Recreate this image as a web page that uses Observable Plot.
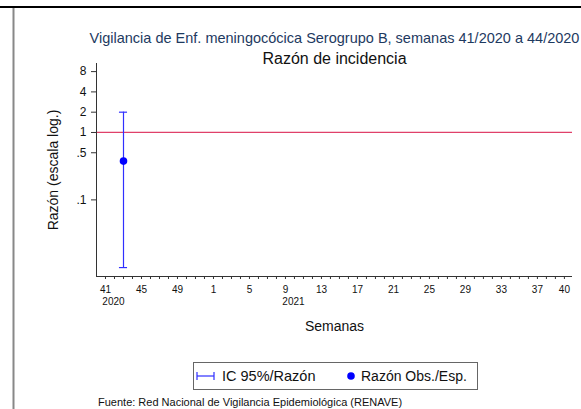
<!DOCTYPE html>
<html>
<head>
<meta charset="utf-8">
<script src="https://cdn.jsdelivr.net/npm/d3@7"></script>
<script src="https://cdn.jsdelivr.net/npm/@observablehq/plot@0.6"></script>
<style>
  html, body { margin: 0; padding: 0; background: #fff; }
  #chart { width: 581px; height: 409px; }
</style>
</head>
<body>
<div id="chart"></div>
<script>
// ---- data ----
const weekLabels = [41,42,43,44,45,46,47,48,49,50,51,52,1,2,3,4,5,6,7,8,9,10,11,12,13,14,15,16,17,18,19,20,21,22,23,24,25,26,27,28,29,30,31,32,33,34,35,36,37,38,39,40];
const labeledWeeks = [41,45,49,1,5,9,13,17,21,25,29,33,37,40];
const yearLabels = ["2020", "2021"];
const yearStartWeeks = [41, 9];
const obsWeeks = [43];
const ratio = [0.376];
const ciLow = [0.0099];
const ciHigh = [2.0];
const refValue = [1];
const yTicks = [8, 4, 2, 1, 0.5, 0.1];
const yTickLabels = ["8", "4", "2", "1", ".5", ".1"];

const titleText = "Vigilancia de Enf. meningocócica Serogrupo B, semanas 41/2020 a 44/2020";
const subtitleText = "Razón de incidencia";
const xTitle = "Semanas";
const yTitle = "Razón (escala log.)";
const legendCI = "IC 95%/Razón";
const legendDot = "Razón Obs./Esp.";
const captionText = "Fuente: Red Nacional de Vigilancia Epidemiológica (RENAVE)";

// ---- derived tables ----
const idx = weekLabels.map((_, i) => i);
const obs = obsWeeks.map((w, k) => ({i: weekLabels.indexOf(w), ratio: ratio[k], lo: ciLow[k], hi: ciHigh[k]}));
const years = yearLabels.map((y, k) => ({i: weekLabels.indexOf(yearStartWeeks[k]), label: y}));
const yTickData = yTicks.map((v, k) => ({v, label: yTickLabels[k]}));
const yMin = 0.0073, yMax = 10.55;
const xMin = -1, xMax = 51.9;

const font = "'Liberation Sans', Arial, sans-serif";
const blue = "#3030ff";

const chart = Plot.plot({
  width: 581,
  height: 409,
  marginTop: 63,
  marginBottom: 133,
  marginLeft: 96,
  marginRight: 9,
  style: {fontFamily: font, fontSize: "10px", color: "#111", background: "#fff"},
  x: {domain: [xMin, xMax]},
  y: {type: "log", domain: [yMin, yMax]},
  marks: [
    Plot.ruleY(refValue, {y: d => d, x1: xMin, x2: xMax, stroke: "#e0406a", strokeWidth: 1.2}),
    Plot.ruleX(obs, {x: "i", y1: "lo", y2: "hi", stroke: blue, strokeWidth: 1.2}),
    Plot.ruleY(obs, {y: "hi", x1: d => d.i - 0.45, x2: d => d.i + 0.45, stroke: blue, strokeWidth: 1.2}),
    Plot.ruleY(obs, {y: "lo", x1: d => d.i - 0.45, x2: d => d.i + 0.45, stroke: blue, strokeWidth: 1.2}),
    Plot.dot(obs, {x: "i", y: "ratio", r: 3.8, fill: "#0000ff", stroke: "none"}),
    Plot.ruleX([xMin], {y1: yMin, y2: yMax, stroke: "#333", strokeWidth: 1}),
    Plot.ruleY([yMin], {x1: xMin, x2: xMax, stroke: "#333", strokeWidth: 1}),
    Plot.axisY({ticks: yTicks, tickFormat: () => "", tickSize: 5, label: null, stroke: "#333"}),
    Plot.text(yTickData, {y: "v", text: "label", frameAnchor: "left", dx: -10, textAnchor: "end", fontSize: 12, fill: "#111"}),
    Plot.axisX({ticks: idx, tickFormat: i => labeledWeeks.includes(weekLabels[i]) ? String(weekLabels[i]) : "", tickSize: 3, tickPadding: 6, fontSize: 10, label: null, stroke: "#333"}),
    Plot.text(years, {x: "i", text: "label", frameAnchor: "bottom", dy: 28, dx: 8, fontSize: 10, fill: "#111"}),
    Plot.text([xTitle], {text: d => d, frameAnchor: "bottom", dy: 54, fontSize: 14, fill: "#111"}),
    Plot.text([yTitle], {text: d => d, frameAnchor: "left", dx: -43, rotate: -90, textAnchor: "middle", fontSize: 14, fill: "#111"}),
    Plot.text([titleText], {text: d => d, frameAnchor: "top", dy: -31, fontSize: 14.5, fill: "#1e3a5f"}),
    Plot.text([subtitleText], {text: d => d, frameAnchor: "top", dy: -11, fontSize: 16, fill: "#111"})
  ]
});

const svg = d3.select(chart);
// outer frame of the screenshot
svg.append("line").attr("x1", 0).attr("x2", 581).attr("y1", 7).attr("y2", 7).attr("stroke", "#000").attr("stroke-width", 2);
svg.append("line").attr("x1", 13.5).attr("x2", 13.5).attr("y1", 8).attr("y2", 409).attr("stroke", "#888").attr("stroke-width", 2);

// legend
const lg = svg.append("g").attr("font-family", font).attr("font-size", 14).attr("fill", "#111").attr("text-anchor", "start");
lg.append("rect").attr("x", 193.5).attr("y", 362.5).attr("width", 284).attr("height", 27).attr("fill", "#fff").attr("stroke", "#666");
lg.append("line").attr("x1", 197).attr("x2", 214).attr("y1", 376).attr("y2", 376).attr("stroke", blue).attr("stroke-width", 1.2);
lg.append("line").attr("x1", 197).attr("x2", 197).attr("y1", 372).attr("y2", 380).attr("stroke", blue).attr("stroke-width", 1.2);
lg.append("line").attr("x1", 214).attr("x2", 214).attr("y1", 372).attr("y2", 380).attr("stroke", blue).attr("stroke-width", 1.2);
lg.append("text").attr("x", 222).attr("y", 381).attr("text-anchor", "start").attr("font-size", 14.5).text(legendCI);
lg.append("circle").attr("cx", 351).attr("cy", 376).attr("r", 3.8).attr("fill", "#0000ff");
lg.append("text").attr("x", 361).attr("y", 381).attr("text-anchor", "start").text(legendDot);

// caption
svg.append("text").attr("x", 98).attr("y", 406).attr("text-anchor", "start").attr("font-family", font).attr("font-size", 11).attr("fill", "#111").text(captionText);

document.getElementById("chart").appendChild(chart);
</script>
</body>
</html>
